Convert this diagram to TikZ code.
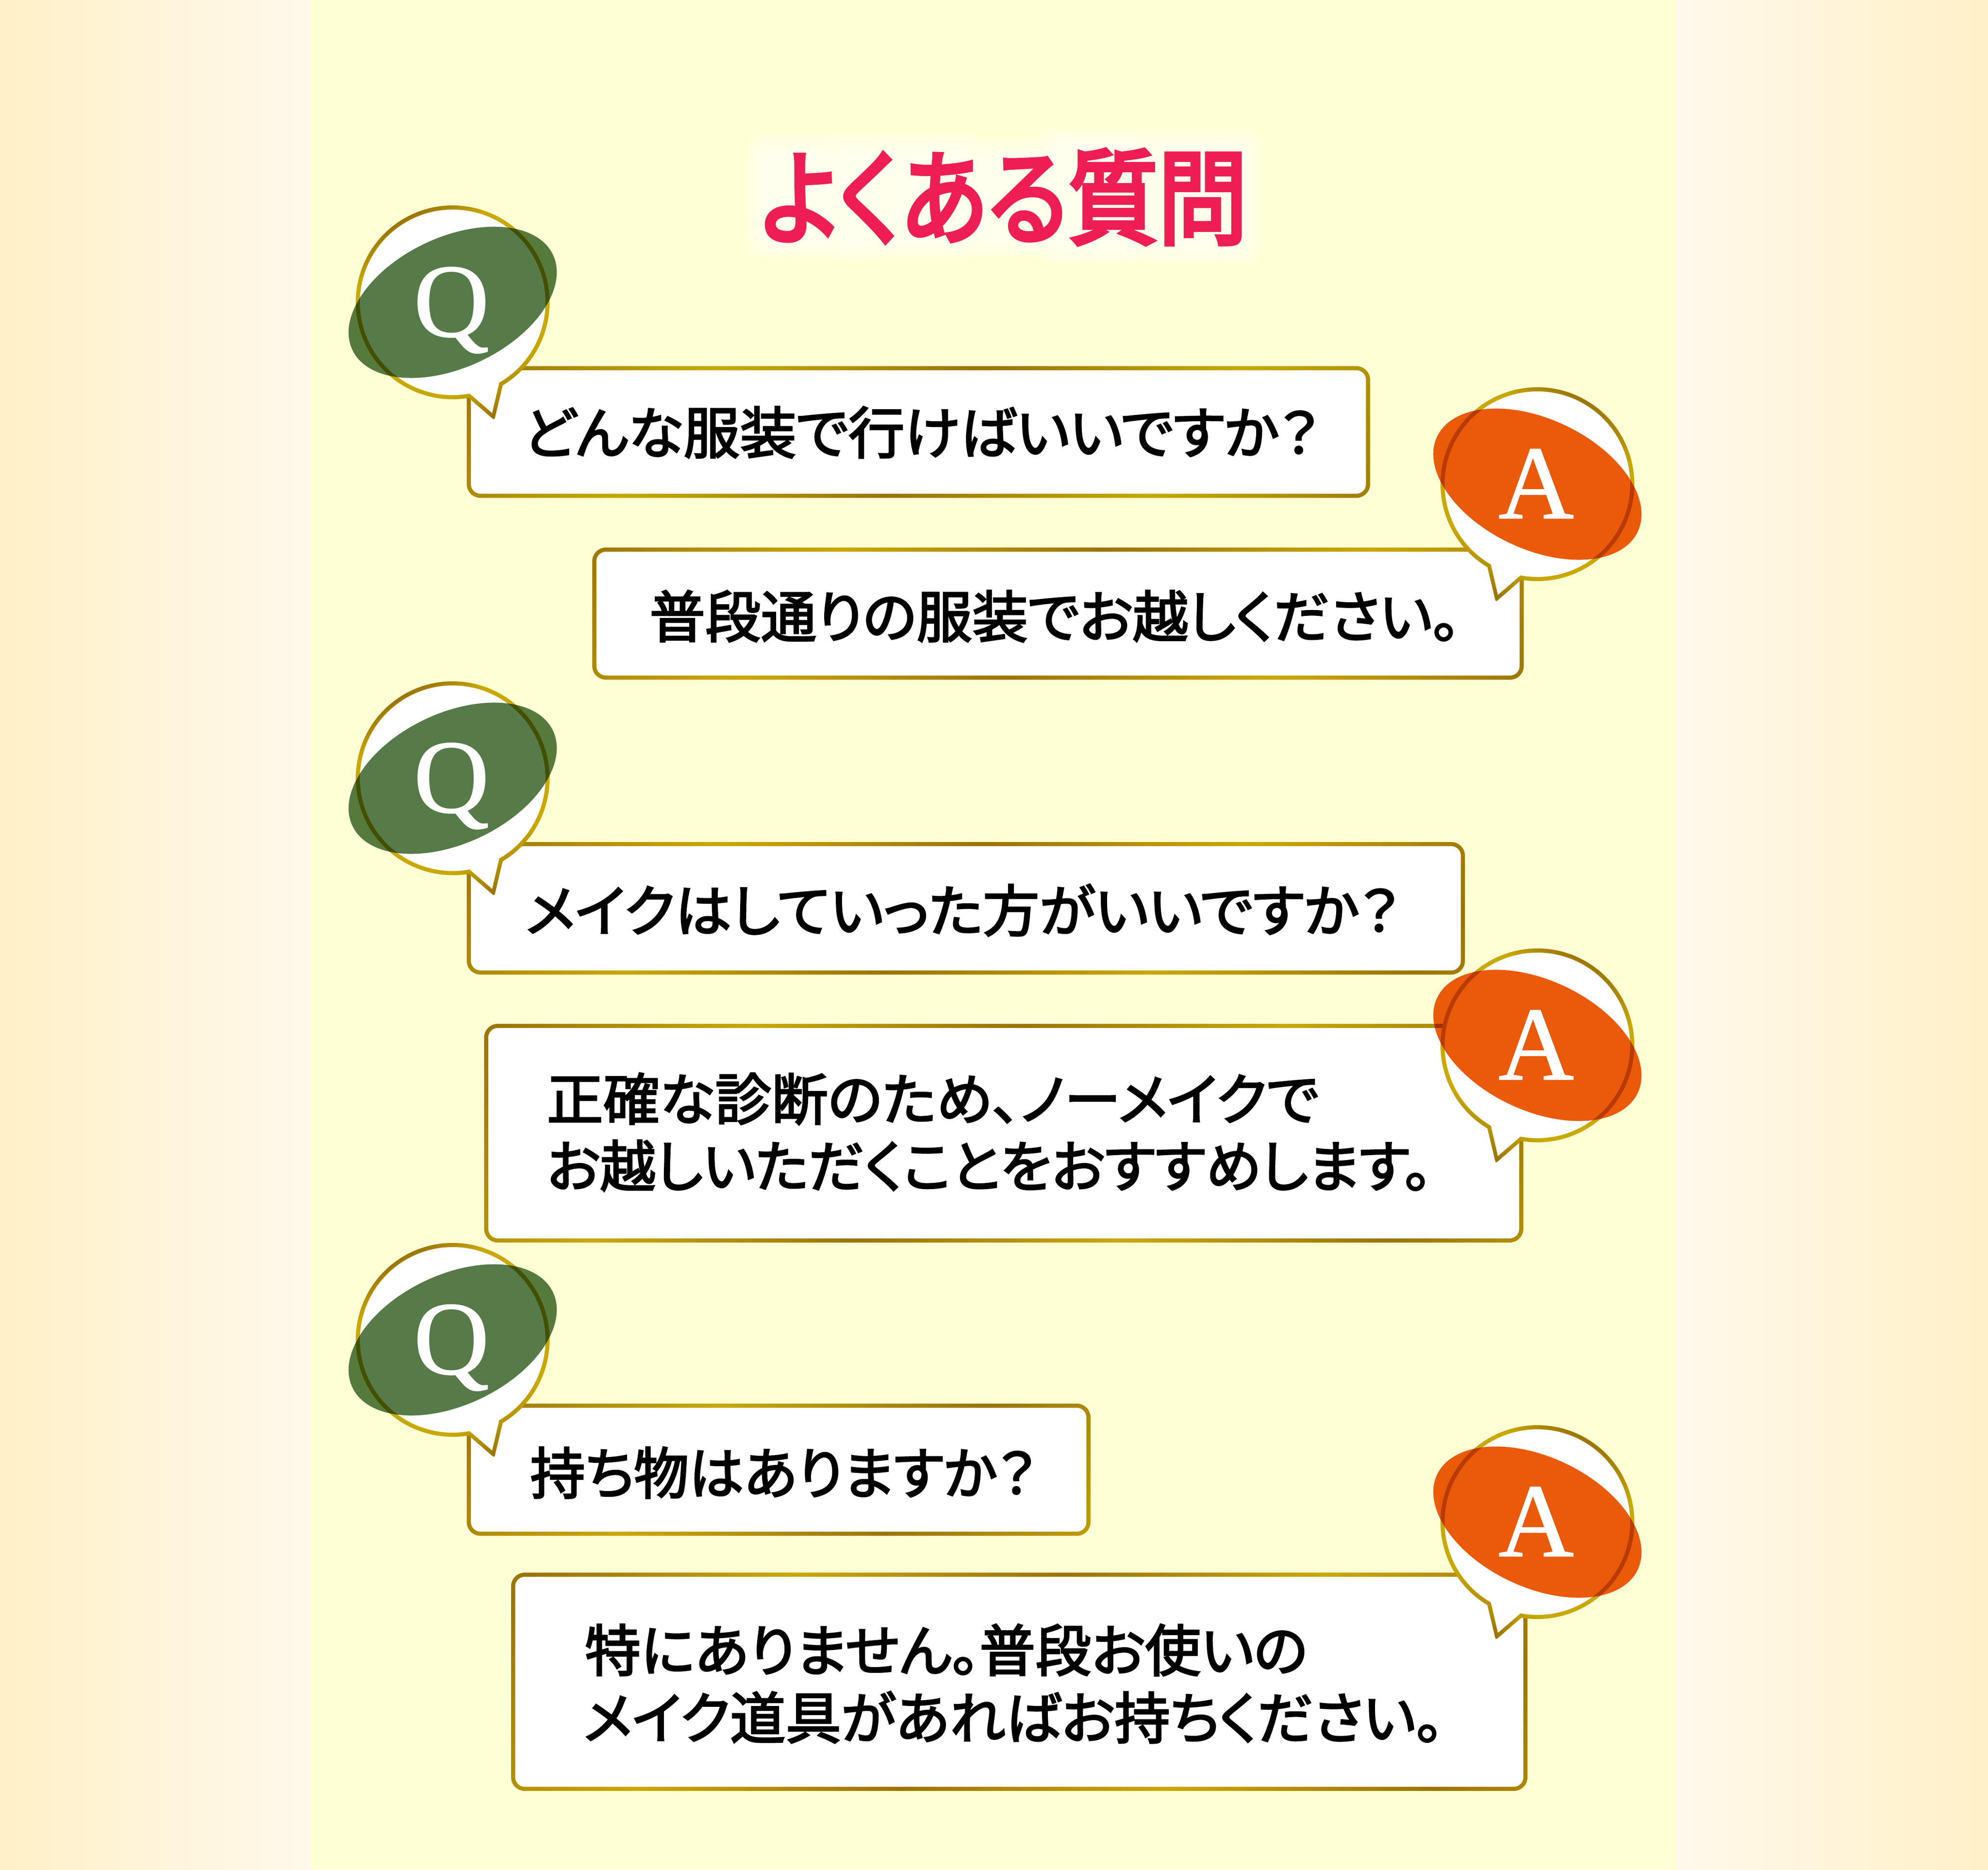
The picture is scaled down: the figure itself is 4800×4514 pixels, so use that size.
\documentclass[tikz,border=0pt]{standalone}
\usepackage{graphicx}
\usepackage{fontspec}
\newfontfamily\jpbody[RawFeature={+palt},FakeBold=2.8]{Noto Sans CJK JP}
\newfontfamily\jptitle[RawFeature={+palt},FakeBold=4]{Noto Sans CJK JP}
\newfontfamily\lser[FakeBold=1]{Liberation Serif}
\definecolor{gd}{RGB}{201,168,0}
\definecolor{br}{RGB}{155,116,0}
\definecolor{cream}{RGB}{255,255,213}
\definecolor{sidea}{RGB}{255,240,200}
\definecolor{sideb}{RGB}{255,249,236}
\definecolor{qgreen}{RGB}{86,122,72}
\definecolor{aorange}{RGB}{234,90,10}
\definecolor{titlepink}{RGB}{238,30,85}
\pgfdeclarehorizontalshading{goldbar}{100bp}{color(0bp)=(gd);color(6.25bp)=(br);color(12.5bp)=(gd);color(18.75bp)=(br);color(25bp)=(gd);color(31.25bp)=(br);color(37.5bp)=(gd);color(43.75bp)=(br);color(50bp)=(gd);color(56.25bp)=(br);color(62.5bp)=(gd);color(68.75bp)=(br);color(75bp)=(gd);color(81.25bp)=(br);color(87.5bp)=(gd);color(93.75bp)=(br);color(100bp)=(gd)}
\pgfdeclarehorizontalshading{goldring}{100bp}{color(0bp)=(br);color(38.2bp)=(br);color(42.25bp)=(gd);color(59.85bp)=(gd);color(64.45bp)=(br);color(100bp)=(br)}
\newcommand{\gbox}[5]{%
  \begin{scope}
    \clip[rounded corners=33pt] (#1,#2) rectangle (#3,#4);
    \shade[shading=goldbar,shading angle=-37] ({#5-2048},{#2-2048}) rectangle ({#5+2048},{#2+2048});
  \end{scope}
  \fill[white,rounded corners=23pt] ({#1+10},{#2+10}) rectangle ({#3-10},{#4-10});
}
% #1 name, #2 cx, #3 cy, #4 mirror sign, #5 letter, #6 colour, #7 tilt, #8 shading angle
\newcommand{\gbubble}[8]{%
  \begin{scope}
    \clip[shift={(#2,#3)},xscale=#4] (58.95:234) arc[start angle=58.95,end angle=-279.5,radius=234]
      -- (92.9,277.8) .. controls (100.7,284.3) and (100.7,284.3) .. (103,274.6) -- cycle;
    \shade[shading=goldring,shading angle=#8] ({#2-500},{#3-500}) rectangle ({#2+500},{#3+500});
  \end{scope}
  \fill[white,shift={(#2,#3)},xscale=#4] (59.9:224) arc[start angle=59.9,end angle=-280.5,radius=224]
      -- (95.3,267.2) -- cycle;
  \begin{scope}[blend mode=multiply]
    \fill[#6,rotate around={#7:(#2,#3)}] (#2,#3) ellipse[x radius=268,y radius=157];
  \end{scope}
  \node[letterstyle] (#1) at ({#2-3},{#3+82}) {#5};
}
\newcommand{\glowstep}[1]{%
  \fill[white,opacity=0.13,rounded corners=42pt]
    ({1848-#1},{372-#1}) rectangle ({1995+#1},{577+#1})
    ({2031-#1},{367-#1}) rectangle ({2107+#1},{582+#1})
    ({2143-#1},{367-#1}) rectangle ({2330+#1},{580+#1})
    ({2366-#1},{383-#1}) rectangle ({2513+#1},{572+#1})
    ({2540-#1},{358-#1}) rectangle ({2759+#1},{590+#1})
    ({2790-#1},{360-#1}) rectangle ({3000+#1},{590+#1});
}
\tikzset{
  txt/.style={anchor=base west,inner sep=0pt,text=black,font=\jpbody\fontsize{135}{135}\selectfont},
  letterstyle/.style={anchor=base,inner sep=0pt,text=white,font=\lser\fontsize{252}{252}\selectfont},
  titlestyle/.style={anchor=base west,inner sep=0pt,text=titlepink,font=\jptitle\fontsize{250}{250}\selectfont}
}
\newcommand{\fitw}[2]{\resizebox{#1pt}{\height}{#2}}
\begin{document}
\begin{tikzpicture}[x=1pt,y=-1pt]
\useasboundingbox (0,0) rectangle (4800,4514);
% background
\fill[cream] (0,0) rectangle (4800,4514);
\shade[left color=sidea,right color=sideb] (0,0) rectangle (749,4514);
\shade[left color=sideb,right color=sidea] (4047,0) rectangle (4800,4514);
% title glow
\glowstep{50}\glowstep{44}\glowstep{38}\glowstep{32}\glowstep{26}\glowstep{20}\glowstep{14}\glowstep{8}
\node[titlestyle] (title) at (1836,570) {\fitw{1176}{よくある質問}};
% Q1 A1
\gbox{1127}{884}{3308}{1202}{1737}
\gbubble{q1}{1093}{730}{1}{Q}{qgreen}{25.4}{-60}
\node[txt] (t1) at (1263,1095) {\fitw{1922}{どんな服装で行けばいいですか？}};
\gbox{1430}{1322}{3679}{1641}{2030}
\gbubble{a1}{3712}{1169}{-1}{A}{aorange}{-25.4}{-120}
\node[txt] (t2) at (1568,1539) {\fitw{1957}{普段通りの服装でお越しください。}};
% Q2 A2
\gbox{1127}{2033}{3537}{2353}{1737}
\gbubble{q2}{1093}{1879}{1}{Q}{qgreen}{25.4}{-60}
\node[txt] (t3) at (1269,2249) {\fitw{2110}{メイクはしていった方がいいですか？}};
\gbox{1169}{2472}{3678}{3000}{1823}
\gbubble{a2}{3712}{2524}{-1}{A}{aorange}{-25.4}{-120}
\node[txt] (t4) at (1320,2704) {\fitw{1864}{正確な診断のため、ノーメイクで}};
\node[txt] (t5) at (1320,2866) {\fitw{2137}{お越しいただくことをおすすめします。}};
% Q3 A3
\gbox{1127}{3389}{2633}{3708}{1737}
\gbubble{q3}{1093}{3235}{1}{Q}{qgreen}{25.4}{-60}
\node[txt] (t6) at (1280,3607) {\fitw{1222}{持ち物はありますか？}};
\gbox{1234}{3797}{3688}{4324}{1927}
\gbubble{a3}{3712}{3675}{-1}{A}{aorange}{-25.4}{-120}
\node[txt] (t7) at (1412,4035) {\fitw{1745}{特にありません。普段お使いの}};
\node[txt] (t8) at (1409,4198) {\fitw{2076}{メイク道具があればお持ちください。}};
\end{tikzpicture}
\end{document}
